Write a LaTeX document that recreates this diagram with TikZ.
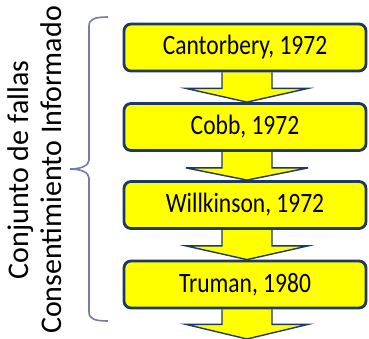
\documentclass[tikz,border=0pt]{standalone}
\usepackage{fontspec}
\setmainfont{Carlito}
\usetikzlibrary{calc,backgrounds}
\definecolor{navy}{RGB}{31,56,100}
\definecolor{bracec}{RGB}{115,125,165}
\definecolor{ylw}{RGB}{255,255,0}
\newcommand{\boxtxt}[1]{\scalebox{0.84}[1]{\fontsize{28}{32}\selectfont #1}}
\begin{document}
\begin{tikzpicture}[x=1pt,y=-1pt,
  box/.style={draw=navy, fill=ylw, line width=2.8pt, rounded corners=7pt,
    minimum width=242pt, minimum height=47pt, inner sep=0pt},
  flowarrow/.style={draw=navy, fill=ylw, line width=1.4pt, line join=miter},
  sidetext/.style={rotate=90, anchor=base, inner sep=0pt, font=\fontsize{30}{34}\selectfont},
  bracepath/.style={draw=bracec, line width=1.6pt}]
\useasboundingbox (0,0) rectangle (369,339);
\node[box] (b1) at (245,47.5) {\boxtxt{Cantorbery, 1972}};
\node[box] (b2) at (245,127) {\boxtxt{Cobb, 1972}};
\node[box] (b3) at (245,205) {\boxtxt{Willkinson, 1972}};
\node[box] (b4) at (245,284.5) {\boxtxt{Truman, 1980}};
\coordinate (end) at (247,339);
\begin{scope}[on background layer]
\foreach \a/\b in {b1/b2,b2/b3,b3/b4}{
  \draw[flowarrow] ($(\a.south)+(-23,0)$) -- ($(\a.south)+(-23,16)$) -- ($(\a.south)+(-59,16)$)
    -- ($(\b.north)+(2,0)$) -- ($(\a.south)+(63,16)$) -- ($(\a.south)+(27,16)$) -- ($(\a.south)+(27,0)$);
}
\draw[flowarrow] ($(b4.south)+(-23,0)$) -- ($(b4.south)+(-23,15)$) -- ($(b4.south)+(-59,15)$)
    -- (end) -- ($(b4.south)+(63,15)$) -- ($(b4.south)+(27,15)$) -- ($(b4.south)+(27,0)$);
\end{scope}
\coordinate (bt) at (108,17);
\coordinate (bb) at (108,321);
\coordinate (bm) at (70,169);
\draw[bracepath] (bt) .. controls (95,17) and (89,19) .. (89,26) -- (89,160)
  .. controls (89,166) and (80,169) .. (bm)
  .. controls (80,169) and (89,172) .. (89,178) -- (89,312)
  .. controls (89,319) and (95,321) .. (bb);
\node[sidetext] (t1) at (28,170) {Conjunto de fallas};
\node[sidetext] (t2) at (61,170) {Consentimiento Informado};
\end{tikzpicture}
\end{document}
